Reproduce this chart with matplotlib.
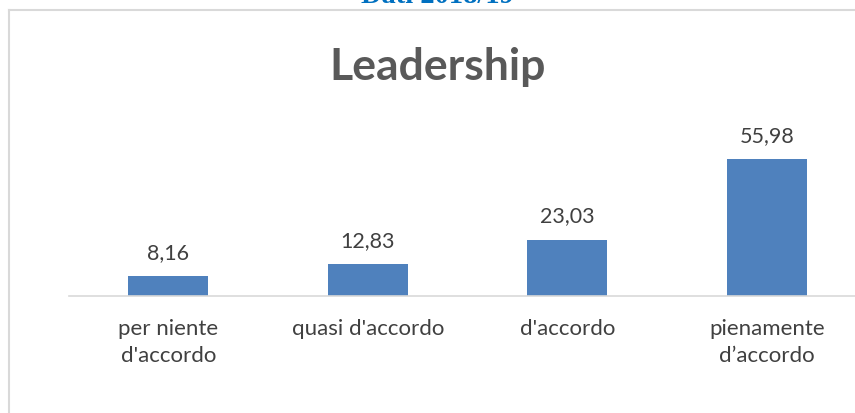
import matplotlib
matplotlib.use("Agg")
import matplotlib.pyplot as plt
from matplotlib.lines import Line2D

categories = ["per niente\nd'accordo", "quasi d'accordo", "d'accordo", "pienamente\nd\u2019accordo"]
values = [8.16, 12.83, 23.03, 55.98]
value_labels = ["8,16", "12,83", "23,03", "55,98"]
title = "Leadership"
header = "Dati 2018/19"

W, H = 855, 414
fig = plt.figure(figsize=(W / 100, H / 100), dpi=100)
fig.patch.set_facecolor("white")

# axes in pixel geometry
left_px, right_px = 68.5, 866.5
base_px, top_px = 296.5, 100
ax = fig.add_axes([left_px / W, (H - base_px) / H, (right_px - left_px) / W, (base_px - top_px) / H])
scale = 136 / 55.98
ax.set_xlim(-0.5, len(categories) - 0.5)
ax.set_ylim(0, (base_px - top_px) / scale)

x = list(range(len(categories)))
bars = ax.bar(x, values, width=0.4, color="#4F81BD", zorder=2)

for xi, v, lab in zip(x, values, value_labels):
    ax.annotate(lab, (xi, v), xytext=(0, 13), textcoords="offset points",
                ha="center", va="baseline", fontsize=15.5, color="#404040", family="Lato")

ax.set_xticks(x)
ax.set_xticklabels(categories, fontsize=16, color="#404040", family="Lato", linespacing=1.45)
ax.tick_params(axis="x", length=0, pad=16)
ax.set_yticks([])
for s in ["top", "right", "left"]:
    ax.spines[s].set_visible(False)
ax.spines["bottom"].set_color("#D9D9D9")
ax.spines["bottom"].set_linewidth(1.2)
ax.set_facecolor("none")

# title
fig.text(438 / W, 1 - 80 / H, title, ha="center", va="baseline", fontsize=32,
         fontweight="bold", color="#595959", family="Lato")

# chart frame border
fig.add_artist(Line2D([8.5 / W, 1.0], [1 - 11 / H, 1 - 11 / H], color="#D9D9D9", lw=1.5, transform=fig.transFigure))
fig.add_artist(Line2D([8.5 / W, 8.5 / W], [0, 1 - 11 / H], color="#D9D9D9", lw=1.5, transform=fig.transFigure))

# header above the chart, cut off at the top edge as in the reference
fig.text(437 / W, 1 - 3 / H, header, ha="center", va="baseline", fontsize=20.5,
         fontweight="bold", color="#0070C0", family="Liberation Serif")

fig.savefig("out.png", dpi=100)
